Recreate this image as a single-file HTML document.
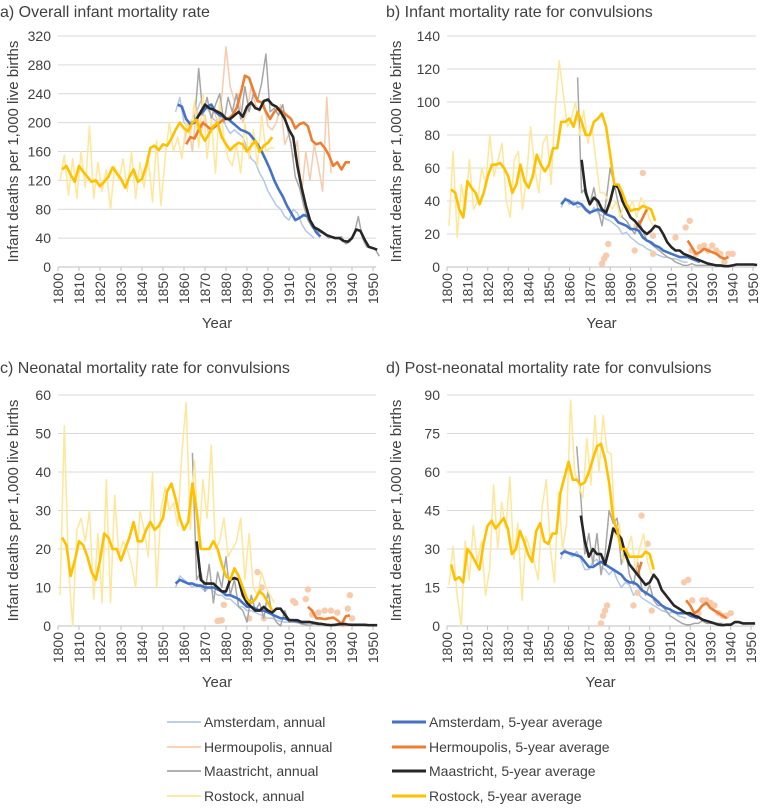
<!DOCTYPE html>
<html><head><meta charset="utf-8">
<style>
html,body{margin:0;padding:0;background:#fff;}
body{width:763px;height:805px;overflow:hidden;font-family:"Liberation Sans",Arial,sans-serif;}
svg text{font-family:"Liberation Sans",Arial,sans-serif;fill:#404040;}
</style></head>
<body>
<svg id="chart" width="763" height="805" viewBox="0 0 763 805" xmlns="http://www.w3.org/2000/svg"></svg>
<script>
// ---------- data (start years + values) ----------
const xTicks = [1800,1810,1820,1830,1840,1850,1860,1870,1880,1890,1900,1910,1920,1930,1940,1950];
const yTicksA = [0,40,80,120,160,200,240,280,320];
const yTicksB = [0,20,40,60,80,100,120,140];
const yTicksC = [0,10,20,30,40,50,60];
const yTicksD = [0,15,30,45,60,75,90];

// Panel a
const rosAnnA = [120,155,100,150,95,160,110,195,95,145,105,135,80,140,120,150,105,160,95,145,110,150,90,175,85,150,200,160,180,150,200,180,230,165,240,150,205,130,230,180,150,140,170,130,200,150,190,140,210,160,165,165];
const rosAvgA = [135,140,128,118,140,132,125,118,120,112,118,125,138,130,122,110,125,135,118,122,140,165,168,162,170,168,178,190,200,192,188,200,204,185,175,185,195,200,180,170,162,168,172,170,160,168,175,160,168,172,180];
const amsAnnA = [215,235,200,195,205,215,230,225,215,205,200,210,195,185,190,185,180,165,150,145,130,120,105,95,85,80,70,65,80,75,60,50,45,40];
const amsAvgA = [225,222,205,198,200,210,215,222,225,215,210,208,205,200,195,190,188,185,178,170,160,148,135,120,108,98,85,75,65,68,72,70,58,48,42];
const maaAnnA = [200,275,210,235,205,225,240,200,235,215,240,205,250,215,240,230,255,295,215,220,210,225,195,170,125,110,85,65,55,50,48,45,40,42,40,42,32,35,45,70,40,28,26,25,15];
const maaAvgA = [205,215,225,220,218,215,212,205,205,210,215,208,222,228,220,218,230,232,225,222,215,205,190,180,140,110,85,65,55,52,48,44,42,40,40,36,35,40,52,50,38,28,26,24];
const herAnnA = [170,200,160,220,185,210,180,220,200,235,305,250,230,240,200,215,250,225,215,230,195,190,200,225,170,185,150,175,100,160,120,170,140,105,235,130];
const herAvgA = [170,180,178,190,200,195,190,195,200,205,205,210,220,240,265,262,245,230,228,215,205,215,220,215,210,205,192,198,200,195,175,170,172,165,155,140,145,135,145,145];

// Panel b
const rosAnnB = [25,70,18,50,35,65,35,40,60,50,80,55,65,75,40,30,65,70,35,55,85,60,45,75,80,50,95,125,105,85,90,100,80,95,75,85,65,45,45,40,35,40,30,40,35,40,30,42,38,30,25];
const rosAvgB = [47,45,35,30,52,48,45,38,45,55,62,62,63,60,55,45,50,62,52,48,55,68,62,58,62,72,72,88,88,90,85,94,88,80,80,88,90,93,85,68,50,50,45,38,34,35,35,37,36,35,28];
const amsAnnB = [36,42,38,40,36,37,34,32,36,33,31,29,28,26,24,20,21,18,16,14,13,11,10,8,7,6,6,5,5,4,3,3];
const amsAvgB = [38,41,40,38,39,38,35,33,34,35,34,32,31,30,27,26,25,23,23,22,18,16,15,13,12,10,9,8,7,6,6,6,5,4,3];
const maaAnnB = [115,45,48,38,48,35,25,40,60,50,38,30,28,24,20,28,22,16,14,12,10,8,6,5,3,2,1,1,2,1,1,1,1,1,1,1];
const maaAvgB = [65,45,38,42,40,35,33,40,50,48,40,35,30,28,25,22,20,22,25,24,20,15,12,10,10,8,7,6,5,4,3,2,1.5,1,1,0.5,0.5,1,1.5,1.5,1.5,1.5,1.5,1.2];
const herAvgB = [25,30,35,null,null,null,null,null,null,null,null,null,16,12,8,9,11,10,9,8,6,5,6];
const herDotYearsB = [1876,1877,1878,1879,1892,1893,1896,1901,1901,1912,1917,1919,1920,1922,1924,1926,1928,1930,1932,1934,1936,1938,1940];
const herDotValsB = [2,5,7,14,10,25,57,19,8,18,24,28,10,8,12,13,10,13,10,8,3,8,8];

// Panel c
const rosAnnC = [8,52,15,0,25,28,22,30,7,24,6,38,6,34,18,22,20,16,10,30,25,18,40,10,30,36,30,32,26,45,58,25,43,20,38,28,47,20,22,28,18,20,22,28,12,24,10,8,14,10,8,6];
const rosAvgC = [23,21,13,17,22,21,18,14,12,17,24,23,20,20,17,20,23,27,22,22,25,27,25,26,28,35,37,33,28,25,27,37,30,20,20,20,22,20,16,13,12,15,13,10,7,6,7,9,8,6,4];
const amsAnnC = [10,13,12,11,10,11,10,9,10,9,8,8,7,7,6,5,5,4,4,3.5,3,2.5,2,2,1.5,1.2,1,1,1,0.8,0.6];
const amsAvgC = [11,12,11.5,11,11,10.5,10.5,10,10,10,9.5,9,8,8,7.5,7,6,5,5,4.5,4,4,3.5,3,2.5,2,2,1.5,1.5,1.2,1,1,1,0.8,0.6];
const maaAnnC = [45,12,14,9,16,6,14,10,18,8,12,5,4,1,8,4,6,2,9,3,1,0,4,1,1,1,0.5,0.3,0.2,0.5,0.3,0.5,0.2,0.2,0.3,0.2,0.1];
const maaAvgC = [22,12,11,11,11,10,9,9,12,12.5,12,8,6,5,4,4,5,4,3.5,4.5,4.5,3,1.5,1.5,1.5,1,1,1,0.8,0.6,0.5,0.3,0.2,0.3,0.5,0.5,0.4,0.3,0.3,0.3,0.3,0.2,0.2,0.2];
const herAvgC = [5,4,2,2,1.8,2,2.2,1.5,0.5,2.5,2.8];
const herDotYearsC = [1876,1877,1878,1879,1891,1895,1897,1898,1912,1913,1918,1919,1921,1924,1927,1930,1933,1936,1938,1939,1940];
const herDotValsC = [1.3,1.4,1.5,5.5,2,14,10,2,6.5,6,7,9.5,3,3.5,4,4,3.5,0.5,4.5,8,2];

// Panel d
const rosAnnD = [16,31,12,0,33,18,39,25,33,12,22,55,30,48,38,58,26,40,10,35,30,25,18,47,57,30,17,52,30,40,88,60,55,50,73,55,82,60,82,68,67,35,40,25,30,35,22,30,36,25,20];
const rosAvgD = [24,18,19,17,30,28,25,22,32,39,41,38,40,42,38,28,30,37,33,28,25,37,40,33,32,36,36,52,58,64,57,57,55,56,60,65,70,71,65,56,42,37,30,30,27,27,27,27,29,28,22];
const amsAnnD = [26,30,28,27,29,26,22,22,25,26,23,22,20,22,18,15,17,16,12,13,11,10,9,8,7,6,5.5,5,6,4,3.5,3];
const amsAvgD = [28,29,28.5,28,27.5,27,25,23,23,24,25,24,23,22,21,20,18,17,17,16,14,13,12,11,9.5,8,7,6.5,5.5,5,5,5,4,3.5,3];
const maaAnnD = [70,50,28,36,24,36,20,28,45,40,42,24,30,20,16,25,15,12,16,10,8,8,6,4,3,2,1,0.5,0.5,1,1,2,1,1,1,1,1];
const maaAvgD = [43,33,27,30,28,28,24,30,38,36,34,28,24,22,20,18,16,17,20,18,14,12,10,8,7,6,5,5,4,3.5,2.5,2,1.5,1,0.5,0.3,0.5,0.5,1.5,1.5,1,1,1,1];
const herAvgD = [20,25,null,null,null,null,null,null,null,null,null,null,10,8,5,6,8,9,7,6,5,4,3];
const herDotYearsD = [1876,1877,1878,1879,1892,1894,1896,1899,1901,1917,1919,1921,1924,1926,1928,1930,1932,1934,1936,1938,1940];
const herDotValsD = [1,4,6,8,8,13,43,32,6,17,18,10,5,10,10,9,8,5,4,4,5];

// ---------- drawing ----------
const NS = 'http://www.w3.org/2000/svg';
const svg = document.getElementById('chart');
const C = {ams:'#4472C4', amsL:'#b4c7e7', her:'#ED7D31', herL:'#f8cbad', maa:'#262626', maaL:'#a6a6a6', ros:'#FFC000', rosL:'#ffe699'};

function mk(tag, attrs, parent){
  const e = document.createElementNS(NS, tag);
  for (const k in attrs) e.setAttribute(k, attrs[k]);
  (parent||svg).appendChild(e);
  return e;
}

function panel(cfg){
  const g = mk('g', {});
  
  
  const ymax = cfg.yTicks[cfg.yTicks.length-1];
  const xs = y => cfg.x0 + (y-1800)*(cfg.x1-cfg.x0)/150;
  const ys = v => cfg.yb - v*(cfg.yb-cfg.yt)/ymax;
  const right = xs(1951.5);
  const t = mk('text', {x:cfg.tx, y:cfg.ty, 'font-size':'16'}, g);
  t.textContent = cfg.title;
  
  
  cfg.yTicks.forEach(v => {
    const gl = mk('line', {x1:cfg.x0, x2:right, y1:ys(v), y2:ys(v), stroke: v===0?'#bfbfbf':'#d9d9d9', 'stroke-width':1}, g);
    
    
    const lt = mk('text', {x:cfg.x0-7, y:ys(v)+5, 'font-size':'14', 'text-anchor':'end'}, g);
    lt.textContent = v;
    
    
  });
  xTicks.forEach(yr => {
    const x = xs(yr);
    mk('line', {x1:x, x2:x, y1:cfg.yb, y2:cfg.yb+4, stroke:'#bfbfbf'}, g);
    const lt = mk('text', {x:0, y:0, 'font-size':'14', 'text-anchor':'end', transform:`translate(${x+5},${cfg.yb+6}) rotate(-90)`}, g);
    lt.textContent = yr;
    
    
  });
  const xt = mk('text', {x:(cfg.x0+right)/2, y:cfg.yb+61, 'font-size':'15', 'text-anchor':'middle'}, g);
  xt.textContent = 'Year';
  
  
  const yc = (cfg.yt+cfg.yb)/2;
  const yt = mk('text', {x:0, y:0, 'font-size':'15', 'text-anchor':'middle', transform:`translate(${cfg.ylx},${yc}) rotate(-90)`}, g);
  yt.textContent = 'Infant deaths per 1,000 live births';
  
  

  function line(vals, start, step, color, w, name){
    let d = '', pen = false;
    vals.forEach((v,i) => {
      if (v === null) { pen = false; return; }
      d += (pen?'L':'M') + xs(start+i*step).toFixed(1) + ',' + ys(v).toFixed(1);
      pen = true;
    });
    const p = mk('path', {d:d, fill:'none', stroke:color, 'stroke-width':w, 'stroke-linejoin':'round'}, g);
    
    
  }
  function dots(years, vals, color){
    years.forEach((yr,i) => {
      const c = mk('circle', {cx:xs(yr), cy:ys(vals[i]), r:3.2, fill:color}, g);
      
      
    });
  }
  const s = cfg.series;
  line(s.amsAnn[0], s.amsAnn[1], 2, C.amsL, 1.5, 'amsterdam-annual-line');
  if (s.herAnn) line(s.herAnn[0], s.herAnn[1], 2, C.herL, 1.5, 'hermoupolis-annual-line');
  if (s.herDots) dots(s.herDots[0], s.herDots[1], C.herL);
  line(s.maaAnn[0], s.maaAnn[1], 2, C.maaL, 1.5, 'maastricht-annual-line');
  line(s.rosAnn[0], s.rosAnn[1], 2, C.rosL, 1.5, 'rostock-annual-line');
  line(s.amsAvg[0], s.amsAvg[1], 2, C.ams, 2.6, 'amsterdam-5yr-line');
  line(s.herAvg[0], s.herAvg[1], 2, C.her, 2.6, 'hermoupolis-5yr-line');
  line(s.maaAvg[0], s.maaAvg[1], 2, C.maa, 2.6, 'maastricht-5yr-line');
  line(s.rosAvg[0], s.rosAvg[1], 2, C.ros, 2.6, 'rostock-5yr-line');
}

panel({name:'panel-a', title:'a) Overall infant mortality rate', tx:0, ty:17, x0:58, x1:373, yt:36, yb:267, ylx:18, yTicks:yTicksA,
  series:{rosAnn:[rosAnnA,1801], rosAvg:[rosAvgA,1802], amsAnn:[amsAnnA,1856], amsAvg:[amsAvgA,1857], maaAnn:[maaAnnA,1865], maaAvg:[maaAvgA,1866], herAnn:[herAnnA,1860], herAvg:[herAvgA,1861]}});
panel({name:'panel-b', title:'b) Infant mortality rate for convulsions', tx:386, ty:17, x0:447, x1:753, yt:36, yb:267, ylx:401, yTicks:yTicksB,
  series:{rosAnn:[rosAnnB,1801], rosAvg:[rosAvgB,1802], amsAnn:[amsAnnB,1856], amsAvg:[amsAvgB,1856], maaAnn:[maaAnnB,1864], maaAvg:[maaAvgB,1866], herAvg:[herAvgB,1894], herDots:[herDotYearsB,herDotValsB]}});
panel({name:'panel-c', title:'c) Neonatal mortality rate for convulsions', tx:0, ty:373, x0:58, x1:373, yt:395, yb:626, ylx:18, yTicks:yTicksC,
  series:{rosAnn:[rosAnnC,1801], rosAvg:[rosAvgC,1802], amsAnn:[amsAnnC,1856], amsAvg:[amsAvgC,1856], maaAnn:[maaAnnC,1864], maaAvg:[maaAvgC,1866], herAvg:[herAvgC,1919], herDots:[herDotYearsC,herDotValsC]}});
panel({name:'panel-d', title:'d) Post-neonatal mortality rate for convulsions', tx:386, ty:373, x0:447, x1:751, yt:395, yb:626, ylx:401, yTicks:yTicksD,
  series:{rosAnn:[rosAnnD,1801], rosAvg:[rosAvgD,1802], amsAnn:[amsAnnD,1856], amsAvg:[amsAvgD,1856], maaAnn:[maaAnnD,1864], maaAvg:[maaAvgD,1866], herAvg:[herAvgD,1894], herDots:[herDotYearsD,herDotValsD]}});

// legend
const legendItems = [
  ['Amsterdam, annual', C.amsL, 1.8, 167, 722], ['Amsterdam, 5-year average', C.ams, 3, 392, 722],
  ['Hermoupolis, annual', C.herL, 1.8, 167, 747], ['Hermoupolis, 5-year average', C.her, 3, 392, 747],
  ['Maastricht, annual', C.maaL, 1.8, 167, 771], ['Maastricht, 5-year average', C.maa, 3, 392, 771],
  ['Rostock, annual', C.rosL, 1.8, 167, 796], ['Rostock, 5-year average', C.ros, 3, 392, 796]
];
const lg = mk('g', {});


legendItems.forEach(it => {
  const e = mk('g', {}, lg);
  
  
  mk('line', {x1:it[3], x2:it[3]+34, y1:it[4], y2:it[4], stroke:it[1], 'stroke-width':it[2]}, e);
  const tx = mk('text', {x:it[3]+37, y:it[4]+5, 'font-size':'14'}, e);
  tx.textContent = it[0];
});
</script>
</body></html>
